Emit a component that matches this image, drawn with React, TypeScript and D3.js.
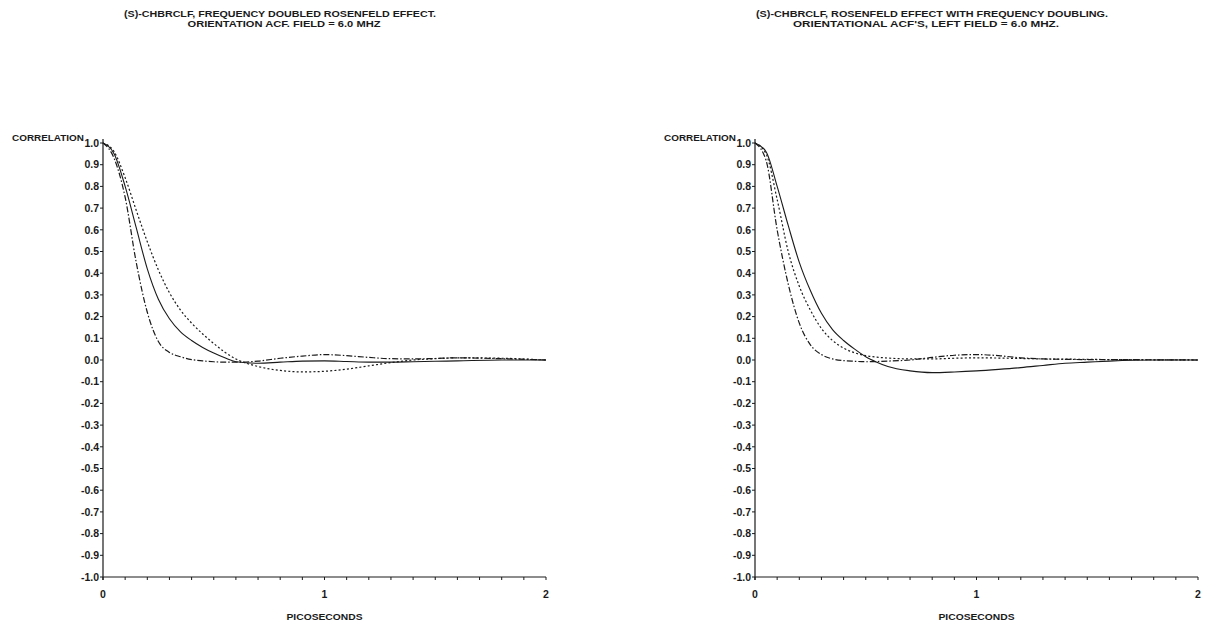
import * as d3 from "d3"

// time axis (picoseconds) shared by every curve
const times = [0, 0.05, 0.1, 0.15, 0.2, 0.25, 0.3, 0.35, 0.4, 0.45, 0.5, 0.55, 0.6, 0.7, 0.8, 0.9, 1.0, 1.1, 1.2, 1.3, 1.4, 1.5, 1.6, 1.8, 2.0]

// left panel: frequency doubled rosenfeld effect
const leftSolid = [1.0, 0.95, 0.8, 0.61, 0.42, 0.28, 0.19, 0.13, 0.09, 0.058, 0.032, 0.01, -0.008, -0.015, -0.01, -0.005, -0.004, -0.007, -0.01, -0.01, -0.008, -0.006, -0.004, 0, 0]
const leftDotted = [1.0, 0.96, 0.84, 0.69, 0.545, 0.415, 0.31, 0.23, 0.17, 0.12, 0.076, 0.036, 0.005, -0.03, -0.048, -0.055, -0.052, -0.042, -0.027, -0.012, 0.0, 0.006, 0.01, 0.008, 0]
const leftDashDot = [1.0, 0.93, 0.75, 0.45, 0.22, 0.085, 0.035, 0.015, 0.002, -0.004, -0.008, -0.01, -0.01, -0.005, 0.008, 0.018, 0.025, 0.02, 0.012, 0.006, 0.005, 0.007, 0.01, 0.006, 0]

// right panel: left field
const rightSolid = [1.0, 0.96, 0.8, 0.62, 0.45, 0.32, 0.215, 0.14, 0.09, 0.05, 0.015, -0.01, -0.03, -0.05, -0.058, -0.055, -0.05, -0.043, -0.035, -0.025, -0.015, -0.01, -0.005, 0, 0]
const rightDotted = [1.0, 0.95, 0.74, 0.5, 0.34, 0.23, 0.145, 0.09, 0.055, 0.033, 0.02, 0.013, 0.009, 0.005, 0.005, 0.008, 0.01, 0.009, 0.007, 0.005, 0.004, 0.003, 0.002, 0.001, 0]
const rightDashDot = [1.0, 0.92, 0.6, 0.35, 0.17, 0.07, 0.025, 0.005, -0.003, -0.006, -0.008, -0.007, -0.005, 0.0, 0.012, 0.022, 0.025, 0.02, 0.01, 0.005, 0.003, 0.002, 0.002, 0.001, 0]

const yTicks = d3.range(-10, 11).map((i) => i / 10)
const xTicks = d3.range(0, 21).map((i) => i / 10)
const xLabels = [0, 1, 2]

const leftTitle = ["(S)-CHBRCLF, FREQUENCY DOUBLED ROSENFELD EFFECT.", "ORIENTATION ACF. FIELD = 6.0 MHZ"]
const rightTitle = ["(S)-CHBRCLF, ROSENFELD EFFECT WITH FREQUENCY DOUBLING.", "ORIENTATIONAL ACF'S, LEFT FIELD = 6.0 MHZ."]

const FONT = "'Liberation Sans', Arial, sans-serif"
const INK = "#1a1a1a"

const dash = {
  solid: undefined,
  dotted: "2,2.2",
  dashdot: "6,2,1.5,2",
}

const Panel = ({ x0, title, titleX, titleW, series }) => {
  const x = d3.scaleLinear().domain([0, 2]).range([x0, x0 + 443])
  const y = d3.scaleLinear().domain([-1, 1]).range([577, 143])
  const line = d3
    .line()
    .x((d) => x(d[0]))
    .y((d) => y(d[1]))
    .curve(d3.curveMonotoneX)

  return (
    <g fontFamily={FONT} fill={INK}>
      {title.map((t, i) => (
        <text
          key={i}
          x={titleX[i]}
          y={17 + i * 10}
          fontSize={9.5}
          fontWeight="bold"
          textAnchor="middle"
          textLength={titleW[i]}
          lengthAdjust="spacingAndGlyphs"
        >
          {t}
        </text>
      ))}

      <text x={x0 - 19} y={141} fontSize={9} fontWeight="bold" textAnchor="end" textLength={72} lengthAdjust="spacingAndGlyphs">
        CORRELATION
      </text>

      {/* y axis */}
      <line x1={x(0)} x2={x(0)} y1={139} y2={580} stroke={INK} strokeWidth={1.2} />
      {yTicks.map((v) => (
        <g key={v}>
          <line x1={x(0) - 3} x2={x(0)} y1={y(v)} y2={y(v)} stroke={INK} strokeWidth={1} />
          <text x={x(0) - 4} y={y(v) + 3.7} fontSize={10.5} fontWeight="bold" textAnchor="end">
            {v.toFixed(1)}
          </text>
        </g>
      ))}

      {/* x axis */}
      <line x1={x(0)} x2={x(2)} y1={y(-1)} y2={y(-1)} stroke={INK} strokeWidth={1} />
      {xTicks.map((v) => (
        <line key={v} x1={x(v)} x2={x(v)} y1={y(-1)} y2={y(-1) + 3} stroke={INK} strokeWidth={1} />
      ))}
      {xLabels.map((v) => (
        <text key={v} x={x(v)} y={598} fontSize={10.5} fontWeight="bold" textAnchor="middle">
          {v}
        </text>
      ))}
      <text x={x(1)} y={620} fontSize={9.5} fontWeight="bold" textAnchor="middle" textLength={76} lengthAdjust="spacingAndGlyphs">
        PICOSECONDS
      </text>

      {series.map((s, i) => (
        <path
          key={i}
          d={line(times.map((t, j) => [t, s.values[j]]))}
          fill="none"
          stroke={INK}
          strokeWidth={s.style === "solid" ? 1.1 : 1.2}
          strokeDasharray={dash[s.style]}
        />
      ))}
    </g>
  )
}

export default function App() {
  return (
    <svg width={1206} height={632} style={{ position: "absolute", left: 0, top: 0, background: "#fff" }}>
      <rect width={1206} height={632} fill="#fff" />
      <Panel
        x0={103}
        title={leftTitle}
        titleX={[280, 284]}
        titleW={[312, 193]}
        series={[
          { values: leftSolid, style: "solid" },
          { values: leftDotted, style: "dotted" },
          { values: leftDashDot, style: "dashdot" },
        ]}
      />
      <Panel
        x0={755}
        title={rightTitle}
        titleX={[932, 926]}
        titleW={[352, 266]}
        series={[
          { values: rightSolid, style: "solid" },
          { values: rightDotted, style: "dotted" },
          { values: rightDashDot, style: "dashdot" },
        ]}
      />
    </svg>
  )
}
